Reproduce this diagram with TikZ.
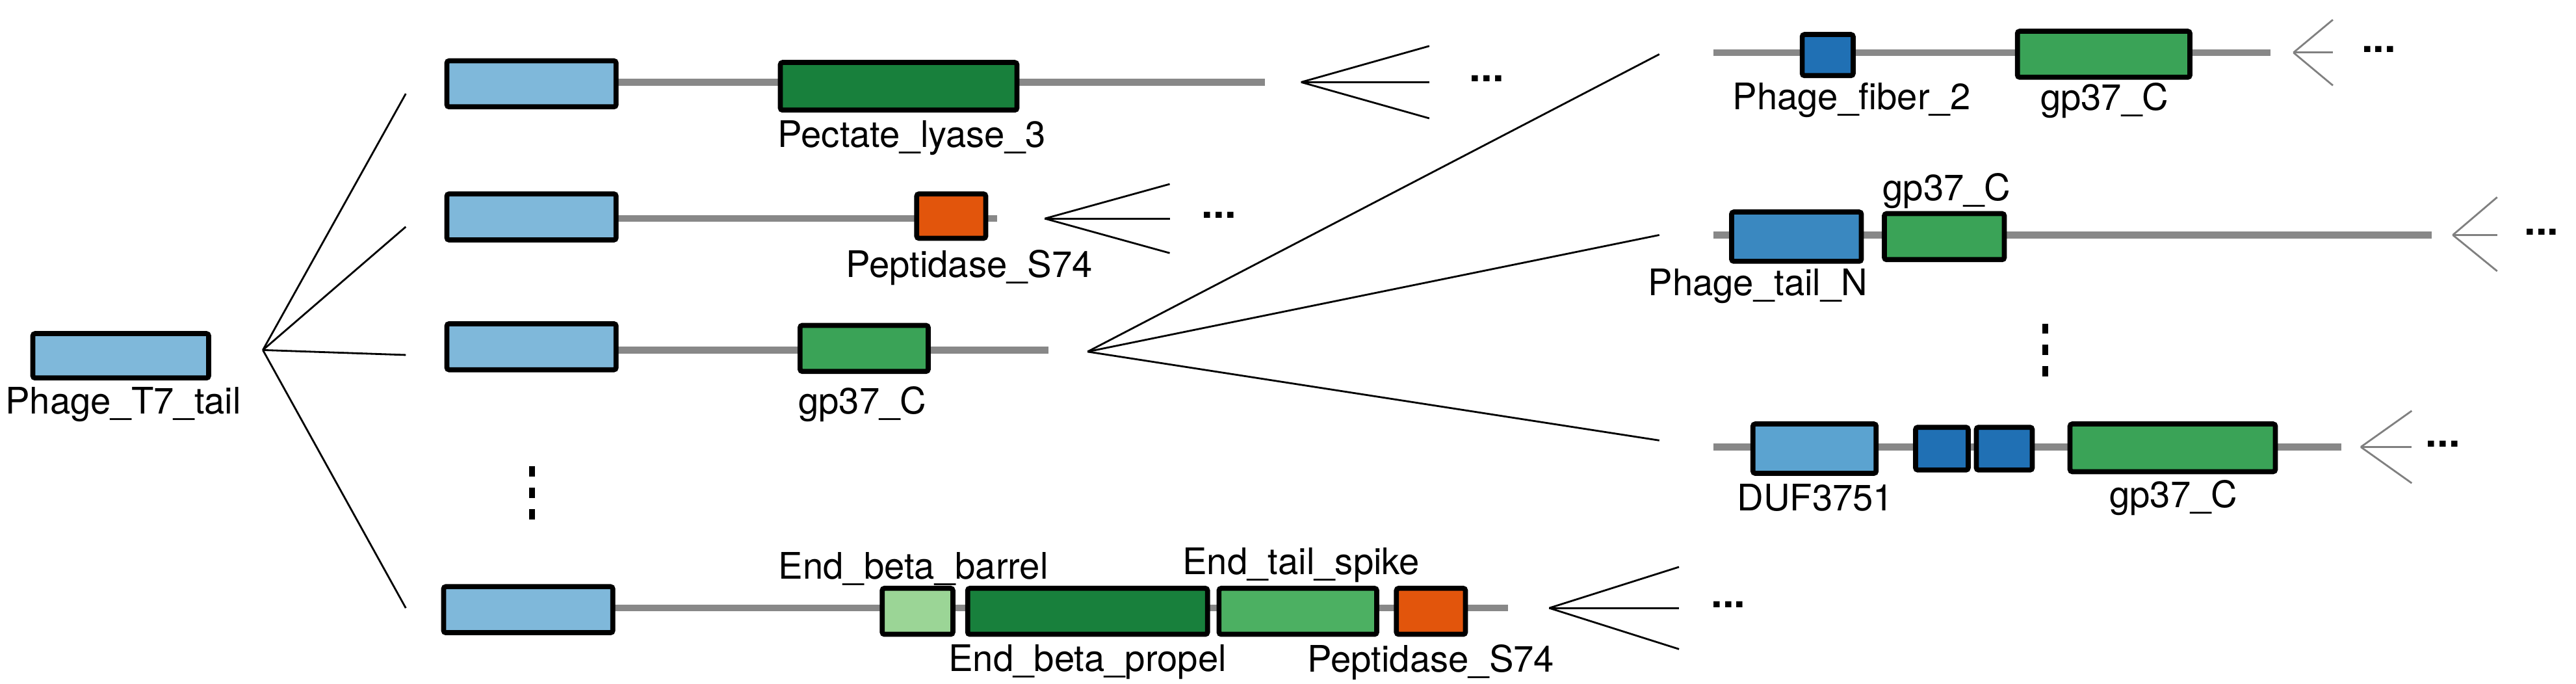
\documentclass[tikz,border=0pt]{standalone}
\usepackage{fontspec}
\setmainfont{TeX Gyre Heros}
\usetikzlibrary{fit}
\definecolor{lb}{HTML}{7FB8DA}
\definecolor{dg}{HTML}{18803C}
\definecolor{og}{HTML}{E2550C}
\definecolor{gg}{HTML}{3AA357}
\definecolor{lg}{HTML}{9BD596}
\definecolor{mg}{HTML}{4CB062}
\definecolor{db}{HTML}{2070B4}
\definecolor{mb}{HTML}{3A88C0}
\definecolor{sb}{HTML}{5BA3D0}
\definecolor{ln}{HTML}{888888}
\tikzset{gene/.style={draw=black,line width=2.2pt,rounded corners=1pt,inner sep=0pt},
  chrom/.style={ln,line width=3pt},
  fan/.style={line width=0.8pt},
  fang/.style={line width=0.8pt,draw=gray},
  lab/.style={font=\fontsize{16}{18}\selectfont,inner sep=1pt},
  dots/.style={font=\fontsize{18}{18}\selectfont\bfseries,inner sep=0pt}}
\newcommand\gene[6]{\node[gene,fill=#6,fit={(#2,#3)(#4,#5)}] (#1) {};}
\begin{document}
\begin{tikzpicture}[x=0.02527cm,y=-0.02527cm]
\useasboundingbox (0,0) rectangle (1568,416);
% root
\gene{root}{20}{203}{127}{230}{lb}
\node[lab] (lroot) at (75,246) {Phage\_T7\_tail};
\coordinate (o) at (160,213);
\coordinate (e1) at (247,57);\coordinate (e2) at (247,138);
\coordinate (e3) at (247,216);\coordinate (e4) at (247,370);
\foreach \e in {e1,e2,e3,e4} \draw[fan] (o) -- (\e);
% row1
\coordinate (r1a) at (375,50);\coordinate (r1b) at (770,50);
\draw[chrom] (r1a) -- (r1b);
\gene{a1}{272}{37}{375}{65}{lb}
\gene{a2}{475}{38}{619}{67}{dg}
\node[lab] (la2) at (555,84) {Pectate\_lyase\_3};
\coordinate (f1) at (792,50);
\coordinate (f1a) at (870,28);\coordinate (f1b) at (870,50);\coordinate (f1c) at (870,72);
\foreach \e in {f1a,f1b,f1c} \draw[fan] (f1) -- (\e);
\node[dots] (d1) at (905,48) {...};
% row2
\coordinate (r2a) at (375,133);\coordinate (r2b) at (607,133);
\draw[chrom] (r2a) -- (r2b);
\gene{b1}{272}{118}{375}{146}{lb}
\gene{b2}{558}{118}{600}{145}{og}
\node[lab] (lb2) at (590,163) {Peptidase\_S74};
\coordinate (f2) at (636,133);
\coordinate (f2a) at (712,112);\coordinate (f2b) at (712,133);\coordinate (f2c) at (712,154);
\foreach \e in {f2a,f2b,f2c} \draw[fan] (f2) -- (\e);
\node[dots] (d2) at (742,131) {...};
% row3
\coordinate (r3a) at (375,213);\coordinate (r3b) at (638,213);
\draw[chrom] (r3a) -- (r3b);
\gene{c1}{272}{197}{375}{225}{lb}
\gene{c2}{487}{198}{565}{226}{gg}
\node[lab] (lc2) at (525,246) {gp37\_C};
\coordinate (f3) at (662,214);
\coordinate (f3a) at (1010,33);\coordinate (f3b) at (1010,143);\coordinate (f3c) at (1010,268);
\foreach \e in {f3a,f3b,f3c} \draw[fan] (f3) -- (\e);
% vertical dots
\foreach \y [count=\i] in {287,300,313} \node[fill=black,minimum width=2.6pt,minimum height=4.5pt,inner sep=0pt] (vd\i) at (324,\y) {};
% row4
\coordinate (r4a) at (373,370);\coordinate (r4b) at (918,370);
\draw[chrom] (r4a) -- (r4b);
\gene{g1}{270}{357}{373}{385}{lb}
\gene{g2}{537}{358}{580}{386}{lg}
\gene{g3}{589}{358}{735}{386}{dg}
\gene{g4}{742}{358}{838}{386}{mg}
\gene{g5}{850}{358}{892}{386}{og}
\node[lab] (lg2) at (556,346) {End\_beta\_barrel};
\node[lab] (lg3) at (662,403) {End\_beta\_propel};
\node[lab] (lg4) at (792,344) {End\_tail\_spike};
\node[lab] (lg5) at (871,403) {Peptidase\_S74};
\coordinate (f4) at (943,370);
\coordinate (f4a) at (1022,345);\coordinate (f4b) at (1022,370);\coordinate (f4c) at (1022,395);
\foreach \e in {f4a,f4b,f4c} \draw[fan] (f4) -- (\e);
\node[dots] (d4) at (1052,368) {...};
% right row1
\coordinate (s1a) at (1043,32);\coordinate (s1b) at (1382,32);
\draw[chrom] (s1a) -- (s1b);
\gene{h1}{1097}{21}{1128}{46}{db}
\gene{h2}{1228}{19}{1333}{47}{gg}
\node[lab] (lh1) at (1127,61) {Phage\_fiber\_2};
\node[lab] (lh2) at (1281,61) {gp37\_C};
\coordinate (k1) at (1396,32);
\coordinate (k1a) at (1420,12);\coordinate (k1b) at (1420,32);\coordinate (k1c) at (1420,52);
\foreach \e in {k1a,k1b,k1c} \draw[fang] (k1) -- (\e);
\node[dots] (dk1) at (1448,30) {...};
% right row2
\coordinate (s2a) at (1043,143);\coordinate (s2b) at (1480,143);
\draw[chrom] (s2a) -- (s2b);
\gene{i1}{1054}{129}{1133}{159}{mb}
\gene{i2}{1147}{130}{1220}{158}{gg}
\node[lab] (li2) at (1185,116) {gp37\_C};
\node[lab] (li1) at (1070,174) {Phage\_tail\_N};
\coordinate (k2) at (1493,143);
\coordinate (k2a) at (1520,120);\coordinate (k2b) at (1520,143);\coordinate (k2c) at (1520,165);
\foreach \e in {k2a,k2b,k2c} \draw[fang] (k2) -- (\e);
\node[dots] (dk2) at (1547,141) {...};
\foreach \y [count=\i] in {200,213,226} \node[fill=black,minimum width=2.6pt,minimum height=4.5pt,inner sep=0pt] (ve\i) at (1245,\y) {};
% right row3
\coordinate (s3a) at (1043,272);\coordinate (s3b) at (1425,272);
\draw[chrom] (s3a) -- (s3b);
\gene{j1}{1067}{258}{1142}{288}{sb}
\gene{j2}{1166}{260}{1198}{286}{db}
\gene{j3}{1203}{260}{1237}{286}{db}
\gene{j4}{1260}{258}{1385}{287}{gg}
\node[lab] (lj1) at (1105,303) {DUF3751};
\node[lab] (lj4) at (1323,303) {gp37\_C};
\coordinate (k3) at (1437,272);
\coordinate (k3a) at (1468,250);\coordinate (k3b) at (1468,272);\coordinate (k3c) at (1468,294);
\foreach \e in {k3a,k3b,k3c} \draw[fang] (k3) -- (\e);
\node[dots] (dk3) at (1487,270) {...};
\end{tikzpicture}
\end{document}
